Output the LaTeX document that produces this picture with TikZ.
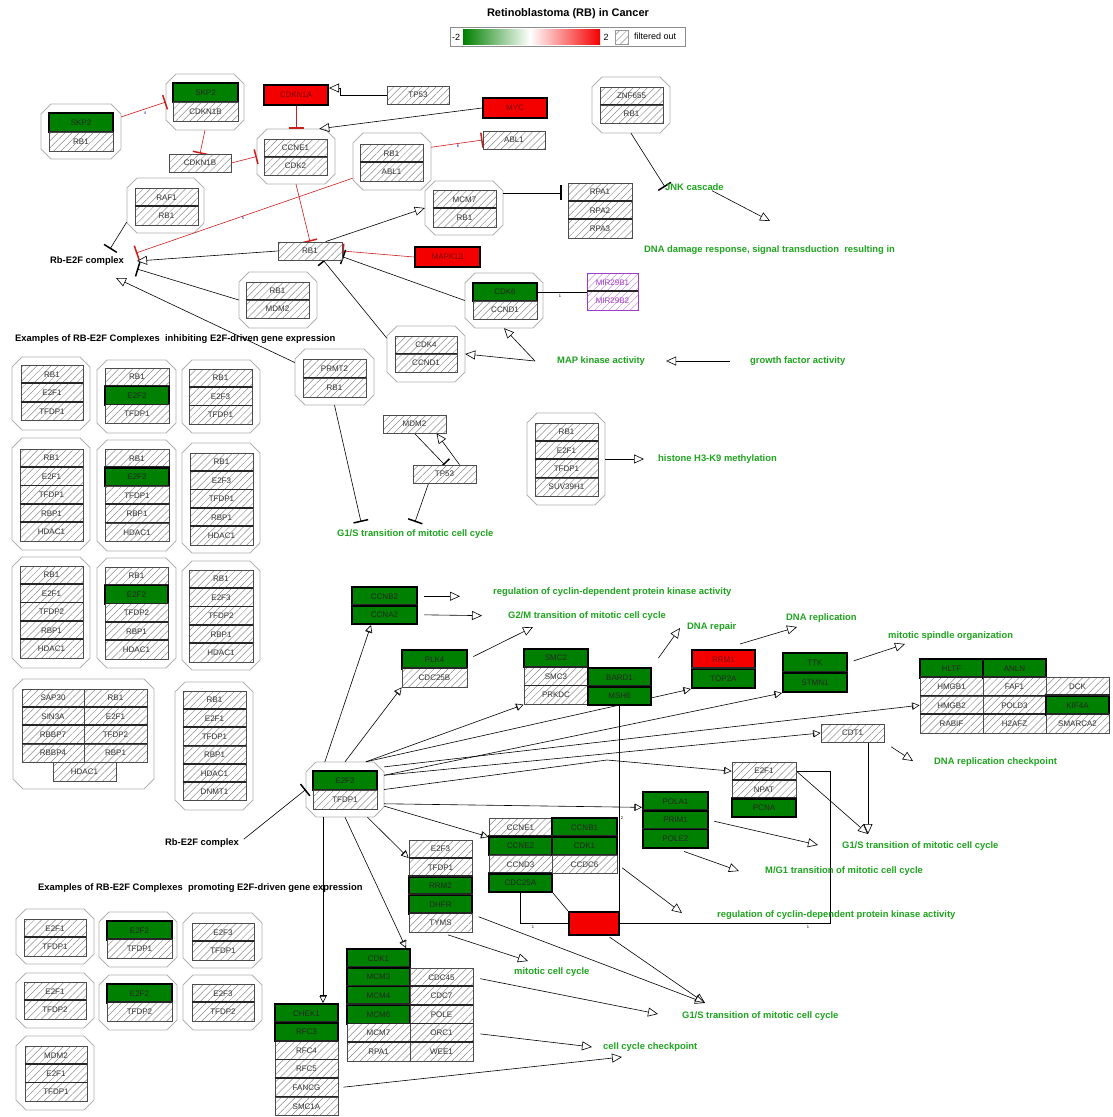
\documentclass[tikz,border=0pt]{standalone}
\usepackage{fontspec}
\setmainfont{Liberation Sans}
\usetikzlibrary{arrows.meta,patterns.meta,calc}

\definecolor{hitgreen}{RGB}{0,128,0}
\definecolor{hitred}{RGB}{245,0,0}
\definecolor{golabel}{RGB}{30,165,30}
\definecolor{mirpurple}{RGB}{160,60,200}
\definecolor{edgered}{RGB}{205,30,30}

\newcommand\genefont{\fontsize{8}{9}\selectfont}
\newcommand\labfont{\bfseries\fontsize{9.4}{10}\selectfont}
\newcommand\numfont{\fontsize{4}{4}\selectfont}

\pgfdeclarelayer{paper}
\pgfdeclarelayer{cplx}
\pgfdeclarelayer{links}
\pgfsetlayers{paper,cplx,links,main}

% single gene box: style, name, x1, y1, x2, y2, text
\newcommand\genebox[7]{%
  \node[#1, minimum width={(#5-#3)*1pt}, minimum height={(#6-#4)*1pt}] (#2) at ({(#3+#5)/2},{(#4+#6)/2}) {#7};}
% vertical stack of gene rows: name, x1, x2, top, row height, list style/text
\newcommand\genestack[6]{%
  \foreach [count=\i] \s/\t in {#6} {
    \node[\s, minimum width={(#3-#2)*1pt}, minimum height={#5*1pt}] (#1-\i) at ({(#2+#3)/2},{#4+(\i-0.5)*#5}) {\t};
    \ifnum\i>1 \draw[rowsep] (#1-\i.north west) -- (#1-\i.north east);\fi
  }}
% complex outline (chamfered): name, x1, y1, x2, y2
\newcommand\cplxbox[5]{%
  \node[cxn, minimum width={(#4-#2)*1pt}, minimum height={(#5-#3)*1pt}] (#1) at ({(#2+#4)/2},{(#3+#5)/2}) {};
  \begin{pgfonlayer}{cplx}
  \draw[cx] ({#2+10},#3) -- ({#4-10},#3) -- (#4,{#3+10}) -- (#4,{#5-10}) -- ({#4-10},#5) -- ({#2+10},#5) -- (#2,{#5-10}) -- (#2,{#3+10}) -- cycle;
  \end{pgfonlayer}}

\begin{document}
\begin{tikzpicture}[x=1pt,y=-1pt,
  gn/.style={draw=black!70, line width=0.8pt, inner sep=0pt, font=\genefont, text=black!80,
    preaction={fill=white}, pattern={Lines[angle=45,distance=5pt,line width=0.5pt]}, pattern color=black!45},
  hg/.style={draw=black, line width=2pt, fill=hitgreen, inner sep=0pt, font=\genefont, text=black!85},
  hr/.style={draw=black, line width=2pt, fill=hitred, inner sep=0pt, font=\genefont, text=red!50!black},
  mir/.style={gn, draw=mirpurple, pattern color=mirpurple!55, text=mirpurple},
  rowsep/.style={line width=1.5pt, black!85},
  cx/.style={draw=black!30, line width=0.8pt, fill=white},
  cxn/.style={inner sep=0pt, draw=none},
  golab/.style={font=\labfont, text=golabel, inner sep=0pt, anchor=west},
  blab/.style={font=\labfont, text=black, inner sep=0pt, anchor=west},
  wire/.style={line width=0.6pt, black},
  rwire/.style={line width=0.6pt, edgered},
  act/.style={wire, -{Triangle[open,length=10pt,width=9pt,line width=0.6pt]}},
  sact/.style={wire, -{Bar[width=7pt,line width=0.6pt] Triangle[open,length=7pt,width=7pt,line width=0.6pt]}},
  inh/.style={wire, -{Bar[width=15pt,line width=1.5pt]}},
  rinh/.style={rwire, -{Bar[width=15pt,line width=1.5pt]}},
  num/.style={font=\numfont, inner sep=0pt, text=blue!70!black},
]
\useasboundingbox (0,0) rectangle (1112,1117);
\begin{pgfonlayer}{paper}
\fill[white] (0,0) rectangle (1112,1117);
\end{pgfonlayer}

% ---------- title and legend ----------
\node[font=\bfseries\fontsize{11}{12}\selectfont, inner sep=0pt] (title) at (568,14) {Retinoblastoma (RB) in Cancer};
\draw[black!45, line width=0.6pt] (450,27) rectangle (685,46);
\node[font=\fontsize{9}{9}\selectfont, inner sep=0pt] (lgmin) at (456,37) {-2};
\shade[left color=hitgreen, right color=white] (463,29) rectangle (530,44);
\shade[left color=white, right color=hitred] (530,29) rectangle (600,44);
\node[font=\fontsize{9}{9}\selectfont, inner sep=0pt] (lgmax) at (606,37) {2};
\node[gn, draw=black!40, minimum width=13pt, minimum height=14pt] (lgfilt) at (621.5,37) {};
\node[font=\fontsize{9}{9}\selectfont, inner sep=0pt, anchor=west] (lgtxt) at (634,36) {filtered out};

% ---------- upper network ----------
\cplxbox{cSkpRb}{41}{104}{121}{159}
\genestack{skprb}{49}{113}{113}{19}{hg/SKP2,gn/RB1}
\cplxbox{cSkpCdk}{166}{74}{244}{130}
\genestack{skpcdk}{173}{238}{83}{19}{hg/SKP2,gn/CDKN1B}
\genebox{gn}{cdkn1b}{169}{154}{231}{172}{CDKN1B}
\genebox{hr}{cdkn1a}{264}{85}{328}{105}{CDKN1A}
\cplxbox{cCcne}{257}{129}{335}{184}
\genestack{ccne12}{264}{327}{139}{18}{gn/CCNE1,gn/CDK2}
\genebox{gn}{tp53a}{387}{86}{449}{104}{TP53}
\genebox{hr}{myc}{483}{98}{547}{118}{MYC}
\genebox{gn}{abl1}{483}{131}{545}{149}{ABL1}
\cplxbox{cRbAbl}{353}{133}{431}{190}
\genestack{rbabl}{360}{423}{144}{18.5}{gn/RB1,gn/ABL1}
\cplxbox{cRaf}{127}{178}{204}{233}
\genestack{raf}{135}{198}{188}{18.5}{gn/RAF1,gn/RB1}
\cplxbox{cMcm7}{425}{181}{503}{235}
\genestack{mcm7}{433}{496}{190}{18.5}{gn/MCM7,gn/RB1}
\genestack{rpa}{568}{632}{183}{18.3}{gn/RPA1,gn/RPA2,gn/RPA3}
\genebox{gn}{rb1}{278}{242}{342}{260}{RB1}
\genebox{hr}{mapk13}{415}{247}{480}{267}{MAPK13}
\cplxbox{cMdm}{239}{272}{317}{328}
\genestack{rbmdm}{246}{309}{282}{18}{gn/RB1,gn/MDM2}
\cplxbox{cCdk6}{465}{273}{543}{328}
\genestack{cdk6}{473}{537}{283}{18}{hg/CDK6,gn/CCND1}
\genestack{mir}{587}{638}{273}{18.5}{mir/MIR29B1,mir/MIR29B2}
\cplxbox{cCdk4}{387}{326}{465}{382}
\genestack{cdk4}{395}{457}{336}{18}{gn/CDK4,gn/CCND1}
\cplxbox{cPrmt}{295}{349}{374}{405}
\genestack{prmt}{303}{366}{359}{19}{gn/PRMT2,gn/RB1}
\cplxbox{cZnf}{592}{77}{670}{133}
\genestack{znf}{600}{663}{87}{18}{gn/ZNF655,gn/RB1}
\genebox{gn}{mdm2}{383}{415}{446}{433}{MDM2}
\genebox{gn}{tp53b}{413}{465}{476}{483}{TP53}
\cplxbox{cSuv}{527}{413}{605}{505}
\genestack{suv}{535}{598}{423}{18.3}{gn/RB1,gn/E2F1,gn/TFDP1,gn/SUV39H1}

\node[blab] (rbE2Fa) at (50,261) {Rb-E2F complex};
\node[golab] (jnk) at (665,187) {JNK cascade};
\node[golab] (dnadmg) at (644,250) {DNA damage response, signal transduction\ \ resulting in};
\node[golab] (mapk) at (557,361) {MAP kinase activity};
\node[golab] (growth) at (750,361) {growth factor activity};
\node[golab] (histone) at (658,459) {histone H3-K9 methylation};
\node[golab] (g1s1) at (337,534) {G1/S transition of mitotic cell cycle};
\node[blab] (ex1) at (15,339) {Examples of RB-E2F Complexes\ \ inhibiting E2F-driven gene expression};

\coordinate (rbA1) at (136,253);
\coordinate (rbA2) at (137,261);
\coordinate (rbA3) at (137,269);
\coordinate (rbA4) at (116,278);
\coordinate (rbA5) at (110,249);
\coordinate (g1sA) at (361,522);
\coordinate (g1sB) at (415,522);
\coordinate (dmgIn) at (770,221);
\coordinate (mapkOut) at ([xshift=-22pt]mapk.west);

% ---------- inhibiting complexes ----------
\cplxbox{i11}{12}{357}{90}{430}
\genestack{i11s}{21}{83}{365}{18.6}{gn/RB1,gn/E2F1,gn/TFDP1}
\cplxbox{i12}{97}{360}{176}{433}
\genestack{i12s}{105}{169}{368}{18.4}{gn/RB1,hg/E2F2,gn/TFDP1}
\cplxbox{i13}{182}{360}{260}{433}
\genestack{i13s}{189}{252}{369}{18.4}{gn/RB1,gn/E2F3,gn/TFDP1}
\cplxbox{i21}{12}{438}{90}{550}
\genestack{i21s}{20}{83}{449}{18.4}{gn/RB1,gn/E2F1,gn/TFDP1,gn/RBP1,gn/HDAC1}
\cplxbox{i22}{97}{440}{176}{551}
\genestack{i22s}{105}{169}{449}{18.5}{gn/RB1,hg/E2F2,gn/TFDP1,gn/RBP1,gn/HDAC1}
\cplxbox{i23}{182}{443}{260}{553}
\genestack{i23s}{190}{253}{453}{18.4}{gn/RB1,gn/E2F3,gn/TFDP1,gn/RBP1,gn/HDAC1}
\cplxbox{i31}{12}{557}{90}{668}
\genestack{i31s}{20}{83}{566}{18.4}{gn/RB1,gn/E2F1,gn/TFDP2,gn/RBP1,gn/HDAC1}
\cplxbox{i32}{97}{558}{176}{668}
\genestack{i32s}{105}{168}{567}{18.4}{gn/RB1,hg/E2F2,gn/TFDP2,gn/RBP1,gn/HDAC1}
\cplxbox{i33}{182}{561}{260}{670}
\genestack{i33s}{189}{253}{570}{18.4}{gn/RB1,gn/E2F3,gn/TFDP2,gn/RBP1,gn/HDAC1}
\cplxbox{i41}{13}{679}{154}{789}
\genestack{i41a}{22}{84}{689}{18.3}{gn/SAP30,gn/SIN3A,gn/RBBP7,gn/RBBP4}
\genestack{i41b}{84}{147}{689}{18.3}{gn/RB1,gn/E2F1,gn/TFDP2,gn/RBP1}
\genebox{gn}{i41c}{53}{762}{116}{781}{HDAC1}
\cplxbox{i42}{175}{682}{253}{810}
\genestack{i42s}{183}{246}{691}{18.3}{gn/RB1,gn/E2F1,gn/TFDP1,gn/RBP1,gn/HDAC1,gn/DNMT1}

% ---------- promoting complexes ----------
\node[blab] (rbE2Fb) at (165,843) {Rb-E2F complex};
\node[blab] (ex2) at (38,888) {Examples of RB-E2F Complexes\ \ promoting E2F-driven gene expression};
\cplxbox{p11}{16}{909}{94}{964}
\genestack{p11s}{24}{86}{919}{18.5}{gn/E2F1,gn/TFDP1}
\cplxbox{p12}{99}{912}{177}{967}
\genestack{p12s}{107}{172}{921}{18.5}{hg/E2F2,gn/TFDP1}
\cplxbox{p13}{183}{913}{262}{968}
\genestack{p13s}{192}{254}{923}{18.5}{gn/E2F3,gn/TFDP1}
\cplxbox{p21}{16}{973}{94}{1028}
\genestack{p21s}{24}{86}{982}{18.5}{gn/E2F1,gn/TFDP2}
\cplxbox{p22}{99}{975}{177}{1030}
\genestack{p22s}{107}{172}{984}{18.5}{hg/E2F2,gn/TFDP2}
\cplxbox{p23}{183}{975}{262}{1030}
\genestack{p23s}{192}{254}{984}{18.5}{gn/E2F3,gn/TFDP2}
\cplxbox{p31}{16}{1036}{94}{1110}
\genestack{p31s}{25}{87}{1046}{18.4}{gn/MDM2,gn/E2F1,gn/TFDP1}

% ---------- E2F target network ----------
\cplxbox{hub}{306}{762}{384}{817}
\genestack{hubs}{313}{377}{771}{19}{hg/E2F2,gn/TFDP1}
\genestack{ccnb}{352}{417}{587}{18.5}{hg/CCNB2,hg/CCNA2}
\genestack{plk}{402}{467}{650}{18.5}{hg/PLK4,gn/CDC25B}
\genestack{smc}{524}{588}{649}{18.4}{hg/SMC2,gn/SMC3,gn/PRKDC}
\genestack{bard}{588}{651}{668}{18.5}{hg/BARD1,hg/MSH6}
\genestack{rrm}{692}{755}{650}{19}{hr/RRM1,hg/TOP2A}
\genestack{ttk}{783}{847}{653}{19.5}{hg/TTK,hg/STMN1}
\genestack{hl1}{920}{983}{659}{18.5}{hg/HLTF,gn/HMGB1,gn/HMGB2,gn/RABIF}
\genestack{hl2}{983}{1046}{659}{18.5}{hg/ANLN,gn/FAF1,gn/POLD3,gn/H2AFZ}
\genestack{hl3}{1046}{1109}{677.5}{18.5}{gn/DCK,hg/KIF4A,gn/SMARCA2}
\genebox{gn}{cdt1}{821}{724}{884}{742}{CDT1}
\genestack{e2f1}{732}{796}{762}{18.3}{gn/E2F1,gn/NPAT,hg/PCNA}
\genestack{pola}{643}{708}{792}{18.7}{hg/POLA1,hg/PRIM1,hg/POLE2}
\genestack{ccneA}{489}{552}{818}{18.5}{gn/CCNE1,hg/CCNE2,gn/CCND3,hg/CDC25A}
\genestack{ccneB}{552}{617}{818}{18.5}{hg/CCNB1,hg/CDK1,gn/CCDC6}
\genebox{hr}{redbox}{569}{912}{619}{935}{}
\genestack{e2f3}{409}{472}{840}{18.4}{gn/E2F3,gn/TFDP1,hg/RRM2,hg/DHFR,gn/TYMS}
\genestack{cdkL}{347}{410}{949}{18.7}{hg/CDK1,hg/MCM3,hg/MCM4,hg/MCM6,gn/MCM7,gn/RPA1}
\genestack{cdkR}{410}{473}{968}{18.6}{gn/CDC45,gn/CDC7,gn/POLE,gn/ORC1,gn/WEE1}
\genestack{chek}{275}{338}{1004}{18.6}{hg/CHEK1,hg/RFC3,gn/RFC4,gn/RFC5,gn/FANCG,gn/SMC1A}

\node[golab] (reg1) at (493,592) {regulation of cyclin-dependent protein kinase activity};
\node[golab] (g2m) at (508,616) {G2/M transition of mitotic cell cycle};
\node[golab] (dnarep) at (687,627) {DNA repair};
\node[golab] (dnarepl) at (786,618) {DNA replication};
\node[golab] (spindle) at (888,636) {mitotic spindle organization};
\node[golab] (drc) at (934,762) {DNA replication checkpoint};
\node[golab] (g1s2) at (842,846) {G1/S transition of mitotic cell cycle};
\node[golab] (mg1) at (765,871) {M/G1 transition of mitotic cell cycle};
\node[golab] (reg2) at (717,915) {regulation of cyclin-dependent protein kinase activity};
\node[golab] (mcc) at (514,972) {mitotic cell cycle};
\node[golab] (g1s3) at (682,1016) {G1/S transition of mitotic cell cycle};
\node[golab] (ccc) at (603,1047) {cell cycle checkpoint};

\coordinate (g2mIn) at (533,627);
\coordinate (dnarepIn) at (680,628);
\coordinate (dnareplIn) at (797,627);
\coordinate (spindleIn) at (905,644);
\coordinate (drcIn) at (913,761);
\coordinate (g1s2In) at (868,834);
\coordinate (g1s2In2) at (818,845);
\coordinate (mg1In) at (739,871);
\coordinate (reg2In) at (682,913);
\coordinate (mccIn) at (528,961);
\coordinate (g1s3In) at (705,1003);
\coordinate (g1s3In2) at (658,1014);
\coordinate (cccIn) at (592,1047);
\coordinate (cccIn2) at (622,1057);
\coordinate (e2bend) at (607,760);

% ---------- connectors ----------
\begin{pgfonlayer}{links}
\draw[rinh] (cSkpRb.20) -- (cSkpCdk.west);
\node[num] (n4) at (145,113) {4};
\draw[rinh] (cSkpCdk.south) -- (cdkn1b.north);
\draw[rinh] (cdkn1b.east) -- (cCcne.west);
\draw[rinh] (cdkn1a.south) -- (cCcne.north);
\coordinate (k1) at (340,95);
\coordinate (k2) at (340,88);
\draw[act] (tp53a.west) -- (k1) -- (k2) -- (k2 -| cdkn1a.east);
\draw[act] (myc.west) -- (cCcne.50);
\draw[rinh] (cRbAbl.20) -- (abl1.west);
\node[num] (n6) at (458,146) {6};
\draw[rinh] (cRbAbl.203) -- (rbA1);
\node[num] (n5) at (243,218) {5};
\draw[rinh] (cCcne.south) -- (rb1.north);
\draw[act] (rb1.west) -- (rbA2);
\draw[act] (rb1.31) -- (cMcm7.west);
\draw[inh, shorten >=6pt] (cMcm7.21) -- (cMcm7.21 -| rpa-1.west);
\draw[rinh] (mapk13.west) -- (rb1.east);
\draw[inh] (cCdk6.west) -- (rb1.-10);
\draw[inh] (cCdk4.158) -- (rb1.-35);
\draw[inh] (cMdm.west) -- (rbA3);
\draw[act] (cPrmt.160) -- (rbA4);
\draw[inh] (cRaf.203) -- (rbA5);
\draw[inh] (cPrmt.south) -- (g1sA);
\draw[inh] (mdm2.south) -- (tp53b.north);
\draw[act] ([xshift=15pt]tp53b.north) -- ([xshift=22pt]mdm2.south);
\draw[inh] ([xshift=-16pt]tp53b.south) -- (g1sB);
\draw[act, shorten >=14pt] (cSuv.east) -- (histone.west);
\draw[inh] (cZnf.south) -- (jnk.west);
\draw[act] ([xshift=-12pt]jnk.south east) -- (dmgIn);
\draw[wire] (cdk6-1.east) -- (cdk6-1.east -| mir-1.west);
\node[num, text=black] (n1a) at (560,296) {1};
\draw[act] (mapkOut) -- (cCdk4.east);
\draw[act] (mapkOut) -- (cCdk6.south);
\draw[act, shorten <=20pt, shorten >=21pt] (growth.west) -- (mapk.east);

\draw[inh, shorten <=6pt] (rbE2Fb.east) -- (hub.west);
\draw[act, shorten <=6pt, shorten >=33pt] (ccnb-1.east) -- (ccnb-1.east -| reg1.west);
\draw[act, shorten <=6pt, shorten >=26pt] (ccnb-2.east) -- (g2m.west);
\draw[act, shorten <=6pt] (plk-1.east) -- (g2mIn);
\draw[act, shorten <=11pt] (bard-1.north east) -- (dnarepIn);
\draw[act] ([xshift=-16pt,yshift=5pt]rrm-1.north east) -- (dnareplIn);
\draw[act, shorten <=6pt] (ttk-1.east) -- (spindleIn);
\draw[act] ([xshift=15.5pt]cdt1.south) -- (g1s2In);
\draw[act, shorten <=8pt] (cdt1.south east) -- (drcIn);
\draw[act] (e2f1-1.east) -- (g1s2In);
\draw[wire] (e2f1-1.east) -- ++(34,0) |- (redbox.east);
\node[num, text=black] (n1b) at (808,927) {1};
\draw[act, shorten <=5pt] (pola-2.east) -- (g1s2In2);
\draw[act, shorten <=7pt] ([xshift=2pt]pola-3.south) -- (mg1In);
\draw[act, shorten <=6pt] (ccneB-3.east) -- (reg2In);
\draw[wire] (ccneA-4.south) -- (ccneA-4.south |- redbox.west) -- (redbox.west);
\node[num, text=black] (n1c) at (533,927) {1};
\draw[wire] (ccneA-4.south east) -- (redbox.north west);
\draw[wire] (bard-2.south) -- (bard-2.south |- redbox.north);
\node[num, text=black] (n2) at (622,818) {2};
\draw[act, shorten <=2pt] ([xshift=-12pt]redbox.south east) -- (g1s3In);
\draw[act, shorten <=8pt] (e2f3-5.south) -- (mccIn);
\draw[act, shorten <=6pt] (e2f3-4.south east) -- (g1s3In);
\draw[act, shorten <=7pt] (cdkR-1.east) -- (g1s3In2);
\draw[act, shorten <=7pt] (cdkR-4.east) -- (cccIn);
\draw[act, shorten <=5pt] (chek-5.east) -- (cccIn2);

% targets of the E2F2/TFDP1 complex
\draw[sact] (hub.126) -- ([xshift=20pt]ccnb-2.south west);
\draw[sact] (hub.north) -- (plk-2.south west);
\draw[sact] (hub.53) -- (smc-3.south west);
\draw[sact] (hub.53) -- (rrm-2.south west);
\draw[sact] (hub.20) -- (ttk-2.south west);
\draw[sact] (hub.30) -- (hl1-3.west);
\draw[sact] (hub.20) -- (cdt1.west);
\draw[sact] (hub.0) -- (e2bend) -- (e2f1-1.west);
\draw[sact] (hub.-20) -- ([yshift=-6pt]pola-1.west);
\draw[sact] (hub.-23) -- (ccneA-1.south west);
\draw[sact] (hub.-51) -- (e2f3-2.north west);
\draw[sact] (hub.south) -- ([xshift=-5pt]cdkL-1.north east);
\draw[sact] ([xshift=-22pt]hub.south) -- ([xshift=-22pt]hub.south |- chek-1.north);
\end{pgfonlayer}
\end{tikzpicture}
\end{document}
